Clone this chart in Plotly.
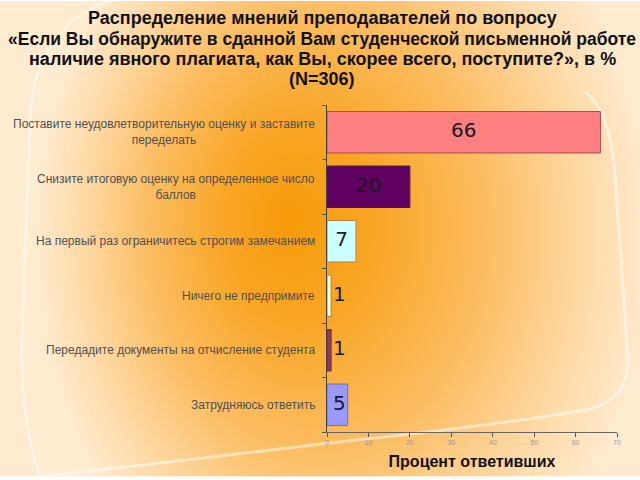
import base64
import plotly.graph_objects as go

categories = [
    "Поставите неудовлетворительную оценку и заставите<br>переделать",
    "Снизите итоговую оценку на определенное число<br>баллов",
    "На первый раз ограничитесь строгим замечанием",
    "Ничего не предпримите",
    "Передадите документы на отчисление студента",
    "Затрудняюсь ответить",
]
values = [66, 20, 7, 1, 1, 5]
bar_colors = ["#FF8080", "#600060", "#CCFFFF", "#FFFFCC", "#993366", "#9999FF"]
bar_lines = ["#A05050", "#402040", "#C08040", "#A08040", "#703030", "#7070B0"]
x_ticks = [0, 10, 20, 30, 40, 50, 60, 70]

title_lines = [
    "Распределение мнений преподавателей по вопросу",
    "«Если Вы обнаружите в сданной Вам студенческой письменной работе",
    "наличие явного плагиата, как Вы, скорее всего, поступите?», в %",
    "(N=306)",
]
title_centers_px = [17, 38, 59, 79]
title_sizes = [18, 17.5, 18, 18]

W, H = 640, 480
ML, MR, MT, MB = 327, 23, 105, 45
pw = W - ML - MR
ph = H - MT - MB

svg = f'''<svg xmlns="http://www.w3.org/2000/svg" width="{W}" height="{H}" viewBox="0 0 {W} {H}" preserveAspectRatio="none">
<defs>
<radialGradient id="g" cx="345" cy="240" fx="285" fy="225" r="310" gradientUnits="userSpaceOnUse" gradientTransform="translate(345 240) scale(1 1.3) translate(-345 -240)">
<stop offset="0" stop-color="#F79A08"/>
<stop offset="0.25" stop-color="#F9A626"/>
<stop offset="0.55" stop-color="#FCBD62"/>
<stop offset="0.8" stop-color="#FED8A2"/>
<stop offset="1" stop-color="#FFEBD0"/>
</radialGradient>
</defs>
<rect x="0" y="0" width="{W}" height="{H}" fill="url(#g)"/>
<path d="M 110 0 Q 35 25 30 120 L 22 340 Q 20 420 40 480" fill="none" stroke="#FFFFFF" stroke-opacity="0.45" stroke-width="3"/>
<path d="M 585 92 Q 612 110 616 190 L 628 360 Q 630 400 590 412 Q 500 428 330 446 Q 150 468 40 480" fill="none" stroke="#FFFFFF" stroke-opacity="0.5" stroke-width="3"/>
</svg>'''
src = "data:image/svg+xml;base64," + base64.b64encode(svg.encode()).decode()

fig = go.Figure()
fig.add_trace(go.Bar(
    y=list(range(len(categories))), x=values, orientation="h",
    marker=dict(color=bar_colors, line=dict(color=bar_lines, width=1)),
    width=0.76, hoverinfo="skip", showlegend=False,
))
fig.add_trace(go.Scatter(
    y=list(range(len(categories))), x=[max(v / 2, 3) for v in values],
    mode="text", text=[str(v) for v in values],
    textfont=dict(family="DejaVu Sans", size=20, color="#1a1a22"),
    textposition="middle center", cliponaxis=False, showlegend=False, hoverinfo="skip",
))

annotations = []
for i, c in enumerate(categories):
    annotations.append(dict(
        xref="paper", yref="y", x=0, y=i, xshift=-10, xanchor="right", yanchor="middle",
        text=c, showarrow=False, align="center",
        font=dict(family="Liberation Sans", size=12, color="#505050"),
    ))
for line, cy, fs in zip(title_lines, title_centers_px, title_sizes):
    annotations.append(dict(
        xref="paper", yref="paper", x=(322 - ML) / pw, y=1 + (MT - cy) / ph,
        xanchor="center", yanchor="middle", text=f"<b>{line}</b>", showarrow=False,
        font=dict(family="Liberation Sans", size=fs, color="#111111"),
    ))

fig.update_layout(
    width=W, height=H,
    margin=dict(l=ML, r=MR, t=MT, b=MB),
    paper_bgcolor="rgba(0,0,0,0)", plot_bgcolor="rgba(0,0,0,0)",
    xaxis=dict(range=[0, 70], tickvals=x_ticks, ticks="outside", ticklen=4,
               tickcolor="#555", showline=True, linecolor="#666", linewidth=1,
               showgrid=False, zeroline=False,
               tickfont=dict(family="Liberation Sans", size=7, color="#999"),
               title=dict(text="<b>Процент ответивших</b>", standoff=10,
                          font=dict(family="Liberation Sans", size=16, color="#111"))),
    yaxis=dict(range=[len(categories) - 0.5, -0.5], showticklabels=False,
               tickvals=[i - 0.5 for i in range(len(categories) + 1)],
               ticks="outside", ticklen=4, tickcolor="#555",
               showline=True, linecolor="#444", linewidth=1, showgrid=False, zeroline=False),
    annotations=annotations,
    images=[dict(source=src, xref="paper", yref="paper",
                 x=-ML / pw, y=1 + MT / ph, sizex=W / pw, sizey=H / ph,
                 xanchor="left", yanchor="top", sizing="stretch", layer="below")],
)

fig.write_html("out.html")
